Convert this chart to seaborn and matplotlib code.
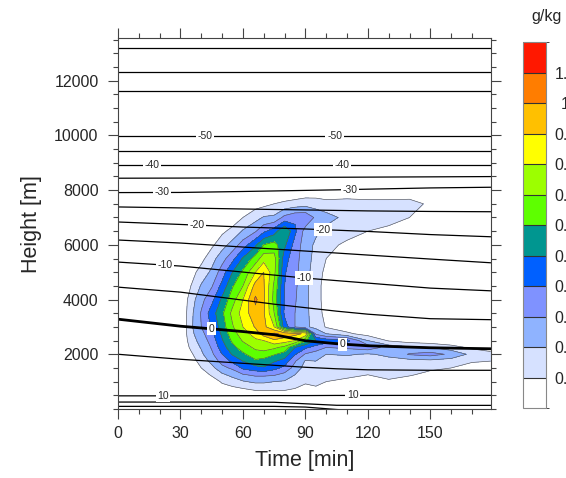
import numpy as np
import pandas as pd
import matplotlib
matplotlib.use("Agg")
import matplotlib.pyplot as plt
from matplotlib.colors import ListedColormap, BoundaryNorm
from matplotlib.cm import ScalarMappable
from matplotlib.ticker import MultipleLocator
import seaborn as sns

# ---------------- data ----------------
# grid of the filled field (mixing ratio, g/kg)
times = [0, 30, 35, 40, 45, 50, 55, 60, 66, 70, 75, 80, 85, 90, 95, 100,
         110, 120, 130, 140, 150, 160, 170, 179]
heights = [0, 500, 750, 1000, 1250, 1500, 1750, 2000, 2250, 2500, 2750, 3000,
           3500, 4000, 4500, 5000, 5500, 6000, 6500, 7000, 7500, 8000, 8500]

# one vertical profile (over `heights`) per entry of `times`
mixing_ratio = [
    [0] * 23,                                                                                                                  # 0
    [0] * 23,                                                                                                                  # 30
    [0, 0, 0, 0, 0, 0.02, 0.05, 0.08, 0.12, 0.15, 0.17, 0.18, 0.17, 0.15, 0.10, 0.06, 0.02, 0, 0, 0, 0, 0, 0],                 # 35
    [0, 0, 0, 0.02, 0.06, 0.10, 0.14, 0.18, 0.21, 0.24, 0.27, 0.30, 0.31, 0.27, 0.21, 0.14, 0.07, 0.02, 0, 0, 0, 0, 0],        # 40
    [0, 0, 0.02, 0.06, 0.11, 0.17, 0.23, 0.28, 0.31, 0.34, 0.37, 0.41, 0.45, 0.37, 0.29, 0.22, 0.16, 0.08, 0.02, 0, 0, 0, 0],  # 45
    [0, 0.02, 0.07, 0.11, 0.18, 0.27, 0.34, 0.40, 0.45, 0.49, 0.52, 0.55, 0.58, 0.52, 0.43, 0.35, 0.26, 0.16, 0.08, 0.02, 0, 0, 0],  # 50
    [0, 0.03, 0.08, 0.15, 0.23, 0.32, 0.42, 0.51, 0.57, 0.62, 0.66, 0.69, 0.73, 0.66, 0.59, 0.50, 0.37, 0.24, 0.13, 0.04, 0, 0, 0],  # 55
    [0, 0.04, 0.10, 0.19, 0.29, 0.42, 0.50, 0.58, 0.65, 0.71, 0.75, 0.80, 0.84, 0.80, 0.70, 0.62, 0.51, 0.35, 0.21, 0.10, 0.02, 0, 0],  # 60
    [0, 0.05, 0.12, 0.22, 0.32, 0.46, 0.58, 0.66, 0.72, 0.78, 0.85, 0.91, 0.97, 1.02, 0.94, 0.80, 0.64, 0.48, 0.29, 0.16, 0.06, 0, 0],  # 66
    [0, 0.05, 0.12, 0.22, 0.32, 0.49, 0.56, 0.66, 0.74, 0.80, 0.95, 0.93, 0.91, 0.92, 0.91, 0.90, 0.76, 0.60, 0.38, 0.21, 0.07, 0, 0],  # 70
    [0, 0.05, 0.12, 0.20, 0.31, 0.43, 0.51, 0.61, 0.72, 0.88, 1.02, 0.80, 0.70, 0.66, 0.68, 0.73, 0.74, 0.64, 0.45, 0.22, 0.10, 0, 0],  # 75
    [0, 0.05, 0.12, 0.19, 0.27, 0.37, 0.46, 0.56, 0.67, 0.85, 0.97, 0.45, 0.38, 0.39, 0.40, 0.41, 0.44, 0.52, 0.60, 0.33, 0.12, 0.01, 0],  # 80
    [0, 0.06, 0.10, 0.15, 0.20, 0.26, 0.31, 0.41, 0.50, 0.80, 0.93, 0.30, 0.30, 0.31, 0.32, 0.33, 0.34, 0.36, 0.42, 0.38, 0.14, 0.01, 0],  # 85
    [0, 0.03, 0.08, 0.11, 0.14, 0.16, 0.19, 0.29, 0.42, 0.62, 0.88, 0.22, 0.22, 0.22, 0.22, 0.23, 0.24, 0.25, 0.26, 0.38, 0.16, 0.02, 0],  # 90
    [0, 0.03, 0.09, 0.12, 0.15, 0.18, 0.20, 0.25, 0.36, 0.50, 0.28, 0.17, 0.16, 0.15, 0.15, 0.16, 0.17, 0.18, 0.22, 0.28, 0.15, 0.03, 0],  # 95
    [0, 0, 0.04, 0.10, 0.13, 0.15, 0.17, 0.20, 0.30, 0.46, 0.20, 0.09, 0.06, 0.05, 0.05, 0.07, 0.10, 0.13, 0.17, 0.24, 0.13, 0.03, 0],  # 100
    [0, 0, 0.02, 0.08, 0.12, 0.14, 0.16, 0.21, 0.32, 0.43, 0.12, 0.04, 0, 0, 0, 0, 0.02, 0.08, 0.14, 0.17, 0.14, 0.03, 0],  # 110
    [0, 0, 0, 0.04, 0.10, 0.13, 0.15, 0.19, 0.36, 0.20, 0.06, 0.01, 0, 0, 0, 0, 0, 0.03, 0.10, 0.15, 0.13, 0.03, 0],     # 120
    [0, 0, 0, 0.09, 0.12, 0.14, 0.17, 0.22, 0.26, 0.09, 0.02, 0, 0, 0, 0, 0, 0, 0, 0.08, 0.13, 0.13, 0.03, 0],           # 130
    [0, 0, 0, 0.05, 0.11, 0.13, 0.16, 0.31, 0.22, 0.05, 0, 0, 0, 0, 0, 0, 0, 0, 0, 0.10, 0.14, 0.02, 0],               # 140
    [0, 0, 0, 0, 0.07, 0.12, 0.17, 0.34, 0.20, 0.03, 0, 0, 0, 0, 0, 0, 0, 0, 0, 0.02, 0.08, 0, 0],                      # 150
    [0, 0, 0, 0, 0.02, 0.10, 0.15, 0.28, 0.14, 0.02, 0, 0, 0, 0, 0, 0, 0, 0, 0, 0, 0, 0, 0],                           # 160
    [0, 0, 0, 0, 0, 0.02, 0.12, 0.17, 0.08, 0, 0, 0, 0, 0, 0, 0, 0, 0, 0, 0, 0, 0, 0],                                 # 170
    [0, 0, 0, 0, 0, 0, 0.10, 0.14, 0.04, 0, 0, 0, 0, 0, 0, 0, 0, 0, 0, 0, 0, 0, 0],                                    # 179
]

# isotherms (deg C): height [m] of each line at iso_times
iso_times = [0, 30, 60, 75, 90, 105, 120, 150, 179]
isotherms = {
    -65: [13200, 13200, 13200, 13200, 13200, 13200, 13200, 13200, 13200],
    -60: [12320, 12320, 12320, 12320, 12320, 12320, 12320, 12320, 12320],
    -55: [11630, 11630, 11630, 11630, 11630, 11630, 11630, 11630, 11630],
    -50: [9990, 9990, 9990, 9990, 9990, 9990, 9990, 9990, 9990],
    -45: [9440, 9440, 9440, 9440, 9440, 9440, 9440, 9440, 9440],
    -40: [8920, 8920, 8920, 8920, 8920, 8920, 8920, 8920, 8920],
    -35: [8435, 8440, 8450, 8458, 8465, 8470, 8475, 8485, 8495],
    -30: [7910, 7915, 7950, 7970, 7990, 8010, 8035, 8080, 8105],
    -25: [7385, 7350, 7310, 7292, 7275, 7258, 7240, 7220, 7210],
    -20: [6835, 6745, 6650, 6615, 6580, 6535, 6490, 6375, 6295],
    -15: [6176, 6066, 5919, 5846, 5773, 5700, 5626, 5480, 5344],
    -10: [5370, 5224, 5004, 4894, 4784, 4692, 4601, 4418, 4319],
    -5: [4454, 4271, 3978, 3831, 3703, 3575, 3465, 3300, 3264],
    0: [3282, 3026, 2830, 2714, 2494, 2385, 2311, 2238, 2201],
    5: [2000, 1817, 1670, 1597, 1524, 1469, 1432, 1414, 1414],
    10: [480, 480, 485, 490, 490, 495, 495, 498, 498],
    15: [253, 253, 253, 245, 190, 135, 132, 132, 132],
    20: [95, 95, 95, 95, 70, -20, -80, -200, -300],
}
# times at which the isotherm labels sit
label_times = {
    -50: [41.7, 104.0],
    -40: [16.3, 107.4],
    -30: [21.1, 111.3],
    -20: [37.9, 98.3],
    -10: [22.5, 89.2],
    0: [45.1, 107.9],
    10: [21.6, 112.7],
}

cbar_levels = [0.1, 0.2, 0.3, 0.4, 0.5, 0.6, 0.7, 0.8, 0.9, 1.0, 1.1]
cbar_labels = ["0.1", "0.2", "0.3", "0.4", "0.5", "0.6", "0.7", "0.8", "0.9", "1", "1.1"]
fill_colors = ["#FFFFFF", "#D6E1FF", "#8FB3FF", "#7F92FF", "#0060FF", "#009690",
               "#5EFF00", "#9CFF00", "#FFFF00", "#FFC000", "#FF7D00", "#FF1800"]

# ---------------- plot ----------------
sns.set_style("ticks")
plt.rcParams["font.family"] = ["Liberation Sans", "DejaVu Sans"]

fig = plt.figure(figsize=(5.66, 4.78), dpi=100)
ax = fig.add_axes([0.2085, 0.1444, 0.6585, 0.7755])

Z = np.array(mixing_ratio, dtype=float).T
fill_levels = [-1.0] + cbar_levels + [10.0]
ax.contourf(times, heights, Z, levels=fill_levels, colors=fill_colors)
ax.contour(times, heights, Z, levels=cbar_levels, colors="#555555", linewidths=0.45)

rows = []
for lev, hs in isotherms.items():
    for t, h in zip(iso_times, hs):
        rows.append({"level": lev, "time": t, "height": h})
df = pd.DataFrame(rows)
sns.lineplot(data=df[df["level"] != 0], x="time", y="height", units="level",
             estimator=None, color="black", linewidth=0.9, ax=ax)
sns.lineplot(data=df[df["level"] == 0], x="time", y="height", units="level",
             estimator=None, color="black", linewidth=2.0, ax=ax)

for lev, tl in label_times.items():
    for t in tl:
        h = np.interp(t, iso_times, isotherms[lev])
        ax.text(t, h, f"{lev}", ha="center", va="center", fontsize=7.5, zorder=6,
                bbox=dict(boxstyle="square,pad=0.15", fc="white", ec="none"))

ax.set_xlim(0, 179)
ax.set_ylim(0, 13550)
ax.set_xticks([0, 30, 60, 90, 120, 150])
ax.set_yticks([2000, 4000, 6000, 8000, 10000, 12000])
ax.xaxis.set_minor_locator(MultipleLocator(10))
ax.yaxis.set_minor_locator(MultipleLocator(500))
ax.tick_params(which="both", direction="out", top=True, right=True,
               color="#444444", width=0.8)
ax.tick_params(which="major", length=7, labelsize=11.5)
ax.tick_params(which="minor", length=3.5)
ax.tick_params(axis="x", pad=5)
ax.tick_params(axis="y", pad=7)
for s in ax.spines.values():
    s.set_color("#444444")
    s.set_linewidth(0.8)
ax.set_xlabel("Time [min]", fontsize=15.5, labelpad=7)
ax.set_ylabel("Height [m]", fontsize=15.5, labelpad=9)

cax = fig.add_axes([0.9249, 0.1464, 0.0389, 0.7657])
bounds = [0.0] + cbar_levels + [1.2]
sm = ScalarMappable(norm=BoundaryNorm(bounds, len(fill_colors)),
                    cmap=ListedColormap(fill_colors))
cb = fig.colorbar(sm, cax=cax, ticks=cbar_levels, drawedges=True)
cb.ax.set_yticklabels(cbar_labels)
cb.ax.tick_params(length=0, pad=14.5, labelsize=11.5)
for lbl in cb.ax.get_yticklabels():
    lbl.set_ha("center")
cb.outline.set_edgecolor("#888888")
cb.outline.set_linewidth(0.8)
cb.dividers.set_color("#333333")
cb.dividers.set_linewidth(0.8)

fig.text(531 / 566, 1 - 17 / 478, "g/kg", fontsize=11.5, ha="left", va="center")

fig.savefig("out.png", dpi=100)
